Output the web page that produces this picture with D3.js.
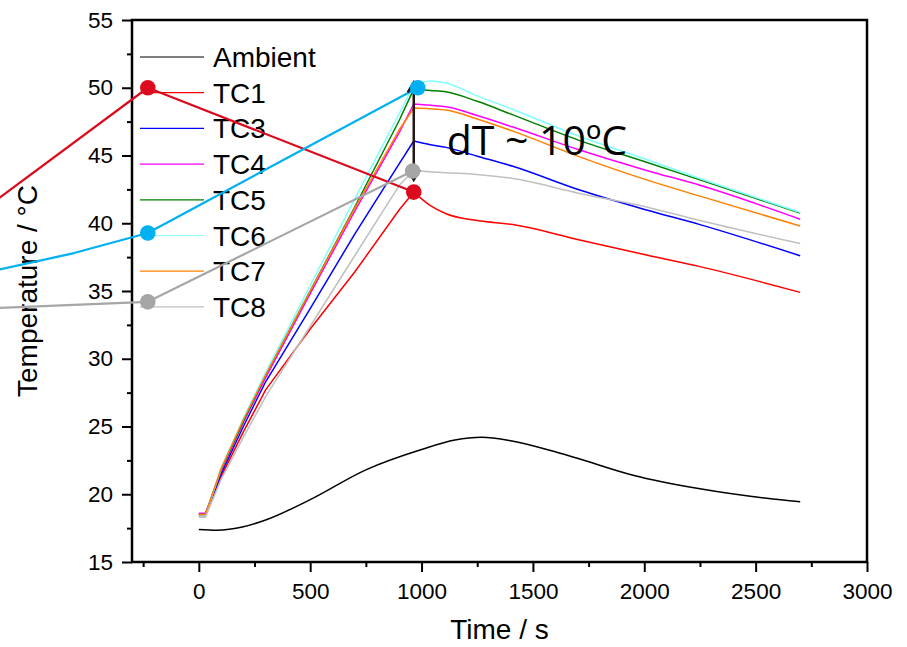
<!DOCTYPE html>
<html>
<head>
<meta charset="utf-8">
<script src="https://cdn.jsdelivr.net/npm/d3@7/dist/d3.min.js"></script>
<style>
	body {margin: 0; background: white;}
	svg text {font-family: 'Liberation Sans', Arial, sans-serif; fill: black;}
</style>
</head>
<body>
<div id="gràfic"></div>
<script>
// temps comuns de les sondes (s); el pic és a 965 s
var temps = [0, 30, 100, 200, 300, 500, 700, 900, 965, 1040, 1110, 1250, 1410, 1710, 2010, 2250, 2700];
var pic = 965;

var tc1 = [18.4, 18.4, 21.3, 24.6, 27.7, 32.2, 36.4, 41.0, 42.3, 41.3, 40.7, 40.2, 39.9, 38.76, 37.65, 36.8, 34.9];
var tc3 = [18.5, 18.5, 21.5, 25.0, 28.3, 33.7, 39.2, 44.4, 46.07, 45.8, 45.6, 44.95, 44.2, 42.45, 40.98, 39.9, 37.6];
var tc4 = [18.6, 18.6, 21.7, 25.3, 28.6, 34.8, 40.9, 46.7, 48.8, 48.7, 48.6, 47.95, 47.1, 45.4, 43.9, 42.8, 40.3];
var tc5 = [18.5, 18.5, 21.8, 25.4, 28.8, 35.0, 41.2, 47.6, 49.9, 49.8, 49.7, 49.0, 48.0, 46.1, 44.5, 43.2, 40.75];
var tc6 = [18.4, 18.4, 21.9, 25.6, 29.0, 35.4, 41.8, 48.1, 50.2, 50.5, 50.35, 49.4, 48.4, 46.4, 44.7, 43.3, 40.8];
var tc7 = [18.5, 18.5, 21.9, 25.5, 28.8, 35.0, 41.1, 46.9, 48.5, 48.45, 48.35, 47.7, 46.8, 44.9, 43.2, 42.0, 39.8];
var tc8 = [18.3, 18.3, 21.1, 24.2, 27.2, 32.4, 37.6, 42.8, 43.9, 43.8, 43.73, 43.6, 43.3, 42.2, 41.2, 40.2, 38.5];

var tempsAmb = [0, 80, 200, 300, 500, 750, 1000, 1150, 1270, 1400, 1575, 1700, 1950, 2250, 2550, 2700];
var ambient = [17.4, 17.35, 17.6, 18.1, 19.6, 21.8, 23.3, 24.0, 24.2, 23.95, 23.25, 22.65, 21.4, 20.4, 19.7, 19.45];

var noms = ['Ambient', 'TC1', 'TC3', 'TC4', 'TC5', 'TC6', 'TC7', 'TC8'];
var colors = ['black', '#ff0000', '#0000ff', '#ff00ff', '#008000', '#80ffff', '#ff8000', '#c0c0c0'];

var ticsX = [0, 500, 1000, 1500, 2000, 2500, 3000];
var ticsXmenors = [-250, 250, 750, 1250, 1750, 2250, 2750];
var ticsY = [15, 20, 25, 30, 35, 40, 45, 50, 55];
var ticsYmenors = [17.5, 22.5, 27.5, 32.5, 37.5, 42.5, 47.5, 52.5];

// línies d'anotació que venen de fora (t, T); el marcador va als punts marcats
var conRoig = [[-1000, 40.6], [-229, 50.0], [965, 42.3]];
var conBlau = [[-1000, 36.2], [-560, 37.8], [-229, 39.28], [983, 50.0]];
var conGris = [[-1000, 33.68], [-229, 34.2], [960, 43.86]];
var marcats = [[-229, 50.0, 0], [965, 42.3, 0], [-229, 39.28, 1], [983, 50.0, 1], [-229, 34.2, 2], [960, 43.86, 2]];
var fletxa = {t: 965, de: 50.4, a: 43.2};
var nota = {t: 1113, T: 45.04, text: 'dT ~ 10ºC'};

var Amplada = 907, Alçada = 647;
var marge = {dalt: 20, dreta: 40, baix: 85, esquerra: 132};

var x = d3.scaleLinear().domain([-300, 3000]).range([marge.esquerra, Amplada - marge.dreta]);
var y = d3.scaleLinear().domain([15, 55]).range([Alçada - marge.baix, marge.dalt]);

var llenç = d3.select('#gràfic')
	.append('svg')
		.attr('width', Amplada)
		.attr('height', Alçada);

// eixos
var eixY = llenç.append('g')
	.attr('transform', `translate(${x(-300)},0)`)
	.call(d3.axisLeft(y).tickValues(ticsY).tickSize(10).tickSizeOuter(0).tickPadding(9).tickFormat(d3.format('d')));
eixY.selectAll('text').style('font-size', '22.5px');
llenç.append('g')
	.attr('transform', `translate(${x(-300)},0)`)
	.call(d3.axisLeft(y).tickValues(ticsYmenors).tickSize(5).tickSizeOuter(0).tickFormat(''));

var eixX = llenç.append('g')
	.attr('transform', `translate(0,${y(15)})`)
	.call(d3.axisBottom(x).tickValues(ticsX).tickSize(10).tickSizeOuter(0).tickPadding(11).tickFormat(d3.format('d')));
eixX.selectAll('text').style('font-size', '22.5px');
llenç.append('g')
	.attr('transform', `translate(0,${y(15)})`)
	.call(d3.axisBottom(x).tickValues(ticsXmenors).tickSize(5).tickSizeOuter(0).tickFormat(''));

llenç.selectAll('.domain').remove();
llenç.selectAll('.tick line').attr('stroke', 'black').attr('stroke-width', 2);

llenç.append('rect')
	.attr('x', x(-300))
	.attr('y', y(55))
	.attr('width', x(3000) - x(-300))
	.attr('height', y(15) - y(55))
	.attr('fill', 'none')
	.attr('stroke', 'black')
	.attr('stroke-width', 2.5);

llenç.append('text')
	.attr('x', (x(-300) + x(3000)) / 2)
	.attr('y', 639)
	.attr('text-anchor', 'middle')
	.style('font-size', '28px')
	.text('Time / s');

llenç.append('text')
	.attr('transform', `translate(37,${(y(15) + y(55)) / 2}) rotate(-90)`)
	.attr('text-anchor', 'middle')
	.style('font-size', '28px')
	.text('Temperature / °C');

// sèries: pujada recta, baixada suau
var sèries = [
	{nom: 'TC1', v: tc1},
	{nom: 'TC3', v: tc3},
	{nom: 'TC4', v: tc4},
	{nom: 'TC5', v: tc5},
	{nom: 'TC6', v: tc6},
	{nom: 'TC7', v: tc7},
	{nom: 'TC8', v: tc8}
];
var color = d3.scaleOrdinal().domain(noms).range(colors);

var recta = d3.line().x(p => x(p[0])).y(p => y(p[1]));
var suau = d3.line().x(p => x(p[0])).y(p => y(p[1])).curve(d3.curveMonotoneX);

function traç(d) {
	let pts = temps.map((t, i) => [t, d.v[i]]);
	return recta(pts.filter(p => p[0] <= pic)) + suau(pts.filter(p => p[0] >= pic));
}

llenç.append('path')
	.attr('d', suau(tempsAmb.map((t, i) => [t, ambient[i]])))
	.attr('stroke', color('Ambient'))
	.attr('stroke-width', 1.5)
	.attr('fill', 'none');

llenç.append('g')
	.selectAll('path')
	.data(sèries)
	.enter()
	.append('path')
		.attr('d', traç)
		.attr('stroke', d => color(d.nom))
		.attr('stroke-width', 1.5)
		.attr('stroke-linejoin', 'round')
		.attr('fill', 'none');

// llegenda
var llegenda = llenç.append('g')
	.selectAll('g')
	.data(noms)
	.enter()
	.append('g')
		.attr('transform', (d, i) => `translate(140,${57 + i * 35.7})`);
llegenda.append('line')
	.attr('x1', 0).attr('x2', 64)
	.attr('stroke', d => color(d))
	.attr('stroke-width', 1.2);
llegenda.append('text')
	.attr('x', 73)
	.attr('dy', '0.36em')
	.style('font-size', '28px')
	.text(d => d);

// anotacions
var colCon = ['#dc0a1e', '#00b0f0', '#a6a6a6'];
llenç.append('g')
	.selectAll('path')
	.data([conRoig, conBlau, conGris])
	.enter()
	.append('path')
		.attr('d', d => recta(d))
		.attr('stroke', (d, i) => colCon[i])
		.attr('stroke-width', 2.2)
		.attr('stroke-linejoin', 'round')
		.attr('fill', 'none');

var fx = x(fletxa.t), fy1 = y(fletxa.de), fy2 = y(fletxa.a);
llenç.append('path')
	.attr('d', `M${fx},${fy1}L${fx},${fy2}M${fx - 6},${fy1 + 10}L${fx},${fy1}L${fx + 6},${fy1 + 10}M${fx - 6},${fy2 - 10}L${fx},${fy2}L${fx + 6},${fy2 - 10}`)
	.attr('stroke', '#231815')
	.attr('stroke-width', 2.5)
	.attr('fill', 'none');

llenç.append('g')
	.selectAll('circle')
	.data(marcats)
	.enter()
	.append('circle')
		.attr('cx', d => x(d[0]))
		.attr('cy', d => y(d[1]))
		.attr('r', 7.8)
		.attr('fill', d => colCon[d[2]]);

llenç.append('text')
	.attr('x', x(nota.t))
	.attr('y', y(nota.T))
	.style('font-family', "'Open Sans', Carlito, sans-serif")
	.style('font-size', '41px')
	.text(nota.text);
</script>
</body>
</html>
